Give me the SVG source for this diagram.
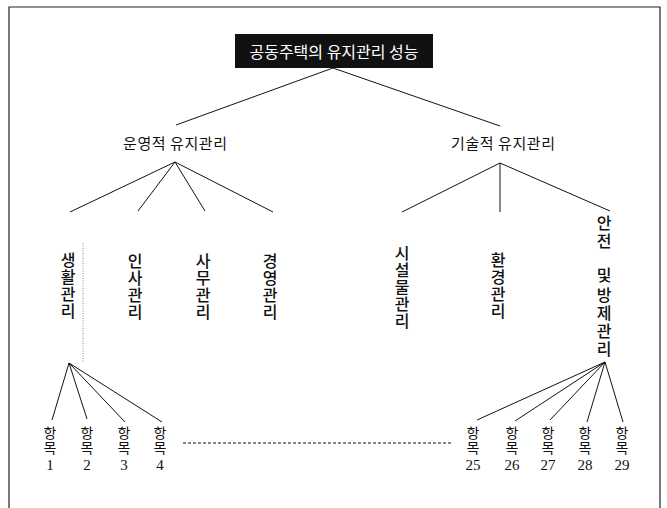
<svg xmlns="http://www.w3.org/2000/svg" width="667" height="508" viewBox="0 0 667 508">
<style>
.kr{font-family:"Noto Sans CJK KR","Noto Sans",sans-serif;fill:#111}
.h{font-size:15px;text-anchor:middle}
.v{font-size:16px;text-anchor:middle;font-weight:500}
.it{font-size:14px;text-anchor:middle}
.num{font-family:"Liberation Serif",serif;font-size:15px;text-anchor:middle;fill:#111}
.ln{stroke:#111;stroke-width:1;fill:none}
</style>
<rect width="667" height="508" fill="#fff"/>
<path d="M9,510 V7 H660 V510" fill="none" stroke="#222" stroke-width="1.2"/>
<g id="connectors" class="ln">
<line x1="333" y1="68" x2="176" y2="125"/>
<line x1="333" y1="68" x2="500" y2="126"/>
<line x1="175" y1="162" x2="70" y2="212"/>
<line x1="175" y1="162" x2="138" y2="211"/>
<line x1="175" y1="162" x2="205" y2="211"/>
<line x1="175" y1="162" x2="273" y2="212"/>
<line x1="500" y1="163" x2="402" y2="212"/>
<line x1="500" y1="163" x2="500" y2="212"/>
<line x1="500" y1="163" x2="610" y2="211"/>
<line x1="69" y1="363" x2="52" y2="420"/>
<line x1="69" y1="363" x2="87" y2="419"/>
<line x1="69" y1="363" x2="125" y2="422"/>
<line x1="69" y1="363" x2="162" y2="422"/>
<line x1="605" y1="362" x2="477" y2="420"/>
<line x1="605" y1="362" x2="515" y2="421"/>
<line x1="605" y1="362" x2="550" y2="420"/>
<line x1="605" y1="362" x2="587" y2="422"/>
<line x1="605" y1="362" x2="623" y2="422"/>
<line x1="183" y1="443" x2="452" y2="443" stroke-dasharray="3,2"/>
<line x1="83" y1="243" x2="83" y2="362" stroke="#888" stroke-dasharray="1,1.5"/>
</g>
<g id="root">
<rect x="235" y="34" width="198" height="34" fill="#111"/>
<text class="kr" x="334" y="58" font-size="16" text-anchor="middle" style="fill:#fff">공동주택의 유지관리 성능</text>
</g>
<g id="op"><text class="kr h" x="175" y="149" textLength="104">운영적 유지관리</text></g>
<g id="tech"><text class="kr h" x="503" y="149" textLength="104">기술적 유지관리</text></g>
<g id="life"><text class="kr v"><tspan x="68" y="266">생</tspan><tspan x="68" y="283">활</tspan><tspan x="68" y="300">관</tspan><tspan x="68" y="317">리</tspan></text></g>
<g id="hr"><text class="kr v"><tspan x="135" y="267">인</tspan><tspan x="135" y="284">사</tspan><tspan x="135" y="301">관</tspan><tspan x="135" y="318">리</tspan></text></g>
<g id="office"><text class="kr v"><tspan x="203" y="267">사</tspan><tspan x="203" y="284">무</tspan><tspan x="203" y="301">관</tspan><tspan x="203" y="318">리</tspan></text></g>
<g id="mgmt"><text class="kr v"><tspan x="270" y="267">경</tspan><tspan x="270" y="284">영</tspan><tspan x="270" y="301">관</tspan><tspan x="270" y="318">리</tspan></text></g>
<g id="facility"><text class="kr v"><tspan x="402" y="259">시</tspan><tspan x="402" y="276">설</tspan><tspan x="402" y="293">물</tspan><tspan x="402" y="310">관</tspan><tspan x="402" y="327">리</tspan></text></g>
<g id="env"><text class="kr v"><tspan x="498" y="266">환</tspan><tspan x="498" y="283">경</tspan><tspan x="498" y="300">관</tspan><tspan x="498" y="317">리</tspan></text></g>
<g id="safety"><text class="kr v"><tspan x="604" y="229">안</tspan><tspan x="604" y="247">전</tspan><tspan x="604" y="281">및</tspan><tspan x="604" y="301">방</tspan><tspan x="604" y="319">제</tspan><tspan x="604" y="337">관</tspan><tspan x="604" y="355">리</tspan></text></g>
<g id="item1"><text class="kr it"><tspan x="50" y="438">항</tspan><tspan x="50" y="453">목</tspan></text><text class="num" x="50" y="470">1</text></g>
<g id="item2"><text class="kr it"><tspan x="87" y="438">항</tspan><tspan x="87" y="453">목</tspan></text><text class="num" x="87" y="470">2</text></g>
<g id="item3"><text class="kr it"><tspan x="124" y="438">항</tspan><tspan x="124" y="453">목</tspan></text><text class="num" x="124" y="470">3</text></g>
<g id="item4"><text class="kr it"><tspan x="160" y="438">항</tspan><tspan x="160" y="453">목</tspan></text><text class="num" x="160" y="470">4</text></g>
<g id="item25"><text class="kr it"><tspan x="473" y="438">항</tspan><tspan x="473" y="453">목</tspan></text><text class="num" x="473" y="470">25</text></g>
<g id="item26"><text class="kr it"><tspan x="512" y="438">항</tspan><tspan x="512" y="453">목</tspan></text><text class="num" x="512" y="470">26</text></g>
<g id="item27"><text class="kr it"><tspan x="548" y="438">항</tspan><tspan x="548" y="453">목</tspan></text><text class="num" x="548" y="470">27</text></g>
<g id="item28"><text class="kr it"><tspan x="585" y="438">항</tspan><tspan x="585" y="453">목</tspan></text><text class="num" x="585" y="470">28</text></g>
<g id="item29"><text class="kr it"><tspan x="622" y="438">항</tspan><tspan x="622" y="453">목</tspan></text><text class="num" x="622" y="470">29</text></g>
</svg>
